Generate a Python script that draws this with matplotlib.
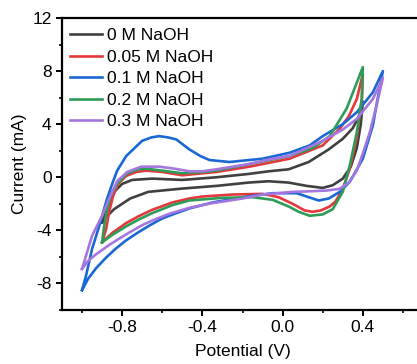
import matplotlib
matplotlib.use("Agg")
import matplotlib.pyplot as plt
from matplotlib.ticker import MultipleLocator

plt.rcParams['font.family'] = ['Liberation Sans', 'DejaVu Sans']

labels = ["0 M NaOH", "0.05 M NaOH", "0.1 M NaOH", "0.2 M NaOH", "0.3 M NaOH"]
colors = ["#404040", "#e4383c", "#1a68d4", "#2e9c58", "#a676e0"]

# 0 M NaOH (loop: negative vertex -> positive vertex -> back)
e_0M = [-0.90, -0.88, -0.86, -0.84, -0.80, -0.75, -0.65, -0.50, -0.33, -0.17, -0.07, 0.03, 0.13, 0.23, 0.30, 0.35, 0.38, 0.40,
        0.39, 0.37, 0.34, 0.30, 0.25, 0.20, 0.12, 0.03, -0.07, -0.17, -0.33, -0.50, -0.67, -0.76, -0.84, -0.88, -0.90]
i_0M = [-3.4, -2.6, -1.8, -1.1, -0.5, -0.2, -0.1, -0.2, 0.0, 0.25, 0.45, 0.6, 1.15, 2.1, 2.9, 3.7, 4.6, 5.7,
        4.0, 2.2, 0.8, -0.1, -0.6, -0.8, -0.65, -0.4, -0.3, -0.4, -0.65, -0.85, -1.1, -1.6, -2.4, -3.0, -3.4]

# 0.05 M NaOH
e_005M = [-0.90, -0.88, -0.865, -0.845, -0.82, -0.78, -0.73, -0.68, -0.60, -0.50, -0.40, -0.33, -0.165, 0.035, 0.20, 0.285, 0.33, 0.37, 0.40,
          0.395, 0.37, 0.335, 0.30, 0.265, 0.235, 0.19, 0.15, 0.11, 0.05, -0.02, -0.10, -0.25, -0.40, -0.465, -0.55, -0.65, -0.72, -0.78, -0.85, -0.90]
i_005M = [-4.9, -3.9, -2.6, -1.4, -0.5, 0.1, 0.4, 0.5, 0.4, 0.15, 0.3, 0.4, 0.8, 1.4, 2.4, 3.66, 4.6, 5.9, 7.8,
          5.9, 3.0, 0.64, -0.87, -1.8, -2.2, -2.5, -2.6, -2.5, -2.0, -1.5, -1.25, -1.3, -1.45, -1.6, -1.9, -2.45, -2.95, -3.45, -4.2, -4.9]

# 0.1 M NaOH
e_01M = [-1.00, -0.98, -0.95, -0.915, -0.875, -0.845, -0.825, -0.78, -0.70, -0.655, -0.615, -0.57, -0.53, -0.465, -0.41, -0.365, -0.265, -0.10, 0.035, 0.135, 0.20, 0.30, 0.37, 0.45, 0.50,
         0.47, 0.45, 0.40, 0.335, 0.285, 0.23, 0.18, 0.13, 0.07, -0.05, -0.20, -0.35, -0.465, -0.53, -0.60, -0.66, -0.72, -0.78, -0.83, -0.88, -0.93, -0.97, -1.00]
i_01M = [-8.5, -7.4, -5.4, -3.7, -1.6, -0.3, 0.5, 1.6, 2.75, 3.0, 3.1, 3.0, 2.85, 2.1, 1.6, 1.3, 1.15, 1.4, 1.85, 2.4, 3.1, 4.0, 4.9, 6.4, 8.0,
         5.6, 3.9, 1.4, -0.34, -1.1, -1.6, -1.75, -1.5, -1.2, -1.2, -1.5, -1.9, -2.35, -2.7, -3.1, -3.6, -4.15, -4.75, -5.35, -6.05, -6.85, -7.65, -8.5]

# 0.2 M NaOH
e_02M = [-0.90, -0.89, -0.875, -0.855, -0.825, -0.775, -0.72, -0.68, -0.60, -0.50, -0.40, -0.33, -0.165, 0.035, 0.15, 0.235, 0.32, 0.40,
         0.395, 0.37, 0.335, 0.30, 0.25, 0.20, 0.135, 0.08, 0.03, -0.05, -0.15, -0.30, -0.465, -0.55, -0.65, -0.72, -0.78, -0.85, -0.90]
i_02M = [-4.9, -3.7, -2.4, -1.3, -0.5, 0.3, 0.6, 0.65, 0.5, 0.3, 0.4, 0.5, 1.0, 1.6, 2.2, 3.1, 5.2, 8.3,
         5.9, 3.4, 0.9, -1.1, -2.4, -2.8, -2.9, -2.6, -2.2, -1.7, -1.5, -1.55, -1.75, -2.1, -2.7, -3.2, -3.7, -4.35, -4.9]

# 0.3 M NaOH
e_03M = [-1.00, -0.98, -0.95, -0.90, -0.865, -0.825, -0.775, -0.705, -0.615, -0.54, -0.465, -0.40, -0.33, -0.165, -0.065, 0.035, 0.20, 0.30, 0.37, 0.45, 0.50,
         0.47, 0.435, 0.40, 0.37, 0.33, 0.285, 0.22, 0.15, 0.05, -0.10, -0.20, -0.35, -0.465, -0.565, -0.64, -0.70, -0.78, -0.865, -0.93, -0.97, -1.00]
i_03M = [-6.9, -5.9, -4.4, -2.9, -1.6, -0.3, 0.4, 0.8, 0.8, 0.65, 0.45, 0.45, 0.6, 1.0, 1.35, 1.6, 2.75, 3.6, 4.4, 5.9, 7.5,
         5.5, 3.4, 1.8, 0.5, -0.4, -0.87, -1.0, -1.05, -1.1, -1.3, -1.6, -1.95, -2.3, -2.75, -3.2, -3.6, -4.3, -5.1, -5.8, -6.3, -6.9]

series = [(e_0M, i_0M), (e_005M, i_005M), (e_01M, i_01M), (e_02M, i_02M), (e_03M, i_03M)]

fig = plt.figure(figsize=(4.17, 3.64), dpi=100)
ax = fig.add_axes([62/417, 54/364, 361/417, 292/364])

for (e, i), lab, c in zip(series, labels, colors):
    ax.plot(e, i, color=c, lw=1.9, label=lab, solid_joinstyle='round')

ax.set_xlim(-1.1, 0.7)
ax.set_ylim(-10, 12)
ax.xaxis.set_minor_locator(MultipleLocator(0.2))
ax.yaxis.set_minor_locator(MultipleLocator(2))
ax.set_xticks([-0.8, -0.4, 0.0, 0.4])
ax.set_xticklabels(["-0.8", "-0.4", "0.0", "0.4"])
ax.set_yticks([-8, -4, 0, 4, 8, 12])
ax.set_yticklabels(["-8", "-4", "0", "4", "8", "12"])

for s in ax.spines.values():
    s.set_linewidth(1.6)
ax.tick_params(which='major', direction='out', length=4.5, width=1.4, labelsize=12.5, pad=3)
ax.tick_params(which='minor', direction='out', length=2.5, width=1.2)

ax.set_xlabel("Potential (V)", fontsize=12.5, labelpad=6)
ax.set_ylabel("Current (mA)", fontsize=12.5, labelpad=4)

leg = ax.legend(loc='upper left', bbox_to_anchor=(0.022, 0.966), frameon=False,
                fontsize=12.5, handlelength=1.85, handletextpad=0.3,
                labelspacing=0.37, borderaxespad=0, borderpad=0)

fig.savefig("out.png", dpi=100)
